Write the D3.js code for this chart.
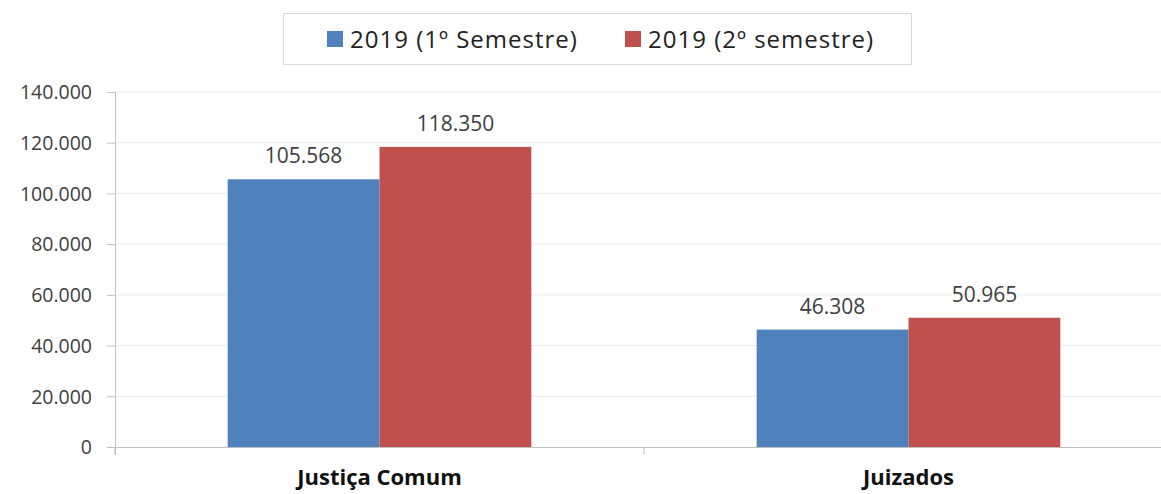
<!DOCTYPE html>
<html>
<head>
<meta charset="utf-8">
<script src="https://cdn.jsdelivr.net/npm/d3@7"></script>
<style>
    body { margin: 0; background: #fff; }
    text { font-family: "Open Sans", "Liberation Sans", sans-serif; fill: #333; }
</style>
</head>
<body>
<div id="chart"></div>
<script>
// chart data
var categories = ["Justiça Comum", "Juizados"];
var seriesNames = ["2019 (1º Semestre)", "2019 (2º semestre)"];
var sem1 = [105568, 46308];
var sem2 = [118350, 50965];
var yTicks = [0, 20000, 40000, 60000, 80000, 100000, 120000, 140000];

var colors = ["#4f81bd", "#c0504d"];

var width = 1161, height = 494;
var margin = {top: 92, right: -12, bottom: 47, left: 115};

var locale = d3.formatLocale({decimal: ",", thousands: ".", grouping: [3], currency: ["R$", ""]});
var fmt = locale.format(",d");

var svg = d3.select("#chart").append("svg")
    .attr("width", width)
    .attr("height", height);

var plotW = width - margin.left - margin.right;
var plotH = height - margin.top - margin.bottom;

var g = svg.append("g")
    .attr("transform", "translate(" + margin.left + "," + margin.top + ")");

var x0 = d3.scaleBand()
    .domain(categories)
    .range([0, plotW])
    .paddingInner(0.426)
    .paddingOuter(0.213);

var x1 = d3.scaleBand()
    .domain([0, 1])
    .range([0, x0.bandwidth()]);

var y = d3.scaleLinear()
    .domain([0, 140000])
    .range([plotH, 0]);

// gridlines
g.selectAll(".grid")
    .data(yTicks.slice(1))
    .enter().append("line")
    .attr("class", "grid")
    .attr("x1", 0)
    .attr("x2", plotW)
    .attr("y1", function(d) { return y(d); })
    .attr("y2", function(d) { return y(d); })
    .attr("stroke", "#ececec")
    .attr("stroke-width", 1);

// y axis
var yAxis = g.append("g")
    .call(d3.axisLeft(y).tickValues(yTicks).tickFormat(fmt).tickSize(8).tickPadding(15));
yAxis.select(".domain").attr("stroke", "#bfbfbf").attr("d", "M0.5," + (plotH + 8) + "V0.5");
yAxis.selectAll(".tick line").attr("stroke", "#bfbfbf");
yAxis.selectAll(".tick text")
    .style("font-size", "19.5px")
    .style("fill", "#404040")
    .attr("dy", "0.35em");

// x axis line and category boundary ticks
g.append("line")
    .attr("x1", 0).attr("x2", plotW)
    .attr("y1", plotH + 0.5).attr("y2", plotH + 0.5)
    .attr("stroke", "#bfbfbf");

var step = plotW / categories.length;
g.selectAll(".xtick")
    .data(d3.range(categories.length + 1))
    .enter().append("line")
    .attr("x1", function(i) { return i * step; })
    .attr("x2", function(i) { return i * step; })
    .attr("y1", plotH)
    .attr("y2", plotH + 8)
    .attr("stroke", "#bfbfbf");

// bars
var rows = categories.map(function(c, i) { return {cat: c, vals: [sem1[i], sem2[i]]}; });

var groups = g.selectAll(".group")
    .data(rows)
    .enter().append("g")
    .attr("transform", function(d) { return "translate(" + x0(d.cat) + ",0)"; });

groups.selectAll("rect")
    .data(function(d) { return d.vals; })
    .enter().append("rect")
    .attr("x", function(d, i) { return x1(i); })
    .attr("y", function(d) { return y(d); })
    .attr("width", x1.bandwidth())
    .attr("height", function(d) { return plotH - y(d); })
    .attr("fill", function(d, i) { return colors[i]; });

groups.selectAll(".val")
    .data(function(d) { return d.vals; })
    .enter().append("text")
    .attr("class", "val")
    .attr("x", function(d, i) { return x1(i) + x1.bandwidth() / 2; })
    .attr("y", function(d) { return y(d) - 16; })
    .attr("text-anchor", "middle")
    .style("font-size", "21px")
    .style("fill", "#404040")
    .text(function(d) { return fmt(d); });

// category labels
g.selectAll(".cat")
    .data(categories)
    .enter().append("text")
    .attr("x", function(d) { return x0(d) + x0.bandwidth() / 2; })
    .attr("y", plotH + 38)
    .attr("text-anchor", "middle")
    .style("font-size", "22px")
    .style("font-weight", "bold")
    .style("fill", "#111")
    .text(function(d) { return d; });

// legend
var legend = svg.append("g");
legend.append("rect")
    .attr("x", 283.5).attr("y", 13.5)
    .attr("width", 628).attr("height", 51)
    .attr("fill", "#fff")
    .attr("stroke", "#d9d9d9");

var legendX = [327, 625];
var items = legend.selectAll(".item")
    .data(seriesNames)
    .enter().append("g")
    .attr("transform", function(d, i) { return "translate(" + legendX[i] + ",31)"; });

items.append("rect")
    .attr("width", 16).attr("height", 16)
    .attr("fill", function(d, i) { return colors[i]; });

items.append("text")
    .attr("x", 23)
    .attr("y", 17)
    .style("font-size", "24px")
    .style("letter-spacing", "1px")
    .style("fill", "#222")
    .text(function(d) { return d; });
</script>
</body>
</html>
